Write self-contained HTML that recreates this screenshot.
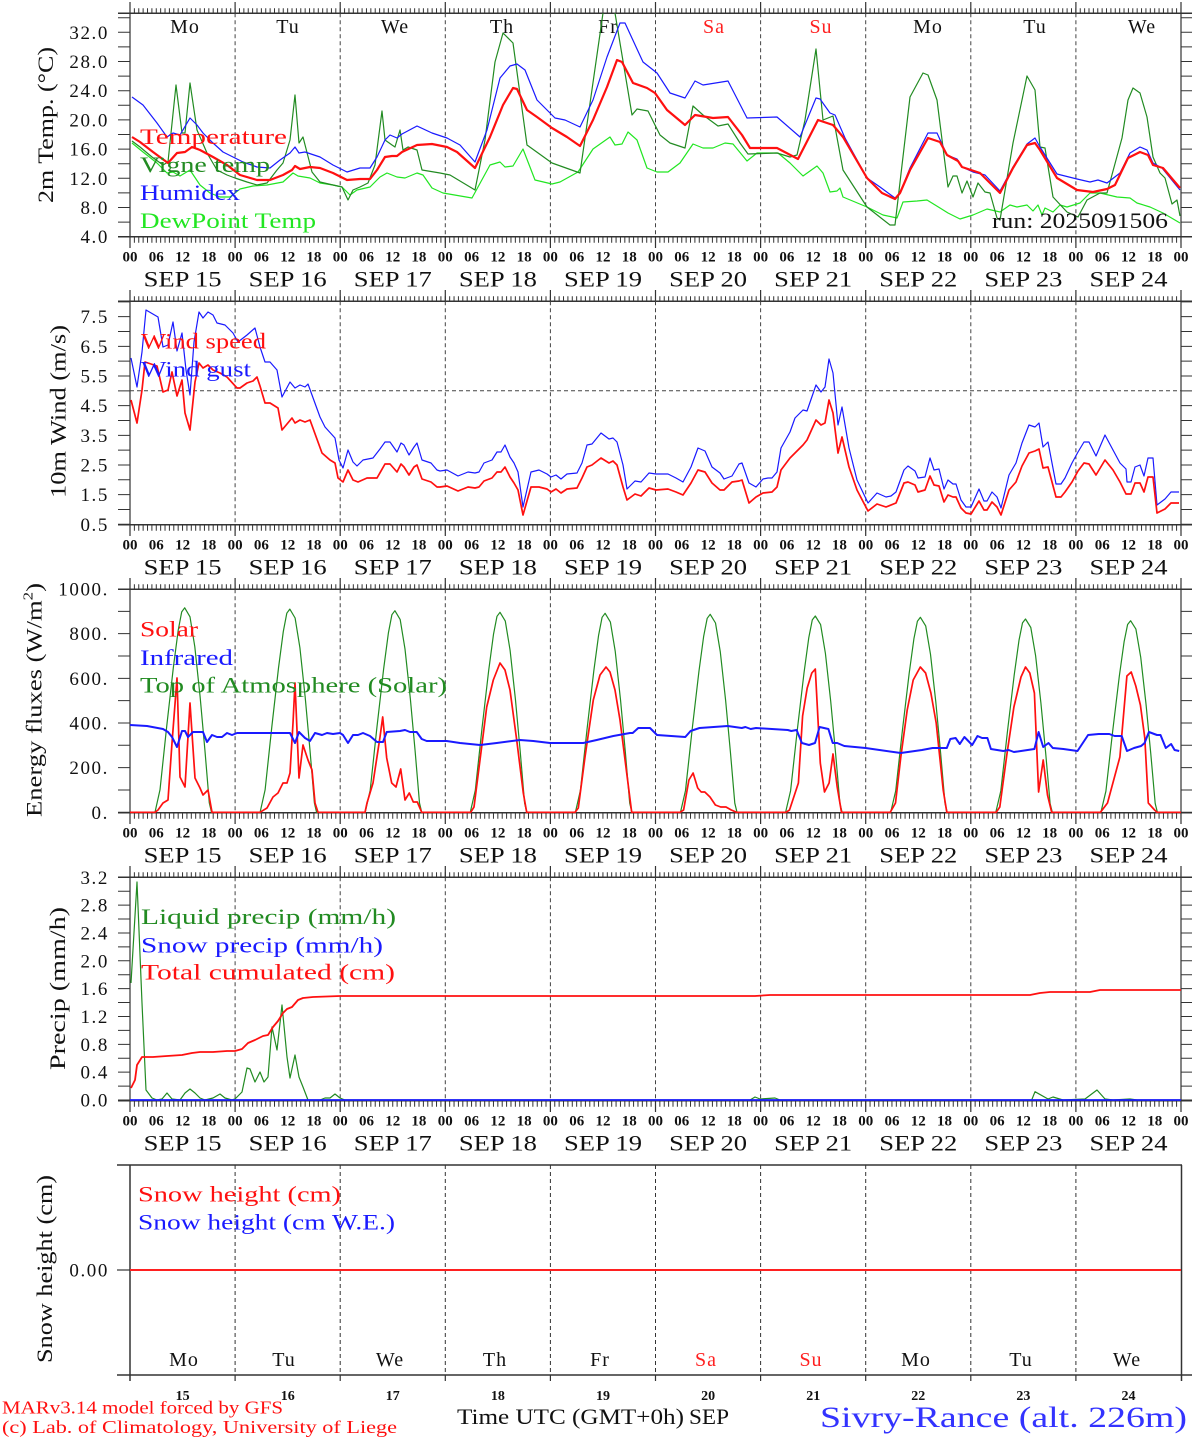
<!DOCTYPE html>
<html><head><meta charset="utf-8"><style>
html,body{margin:0;padding:0;background:#fff;}
svg{display:block;}
text{font-family:"Liberation Serif",serif;}
</style></head><body>
<svg xmlns="http://www.w3.org/2000/svg" xmlns:xlink="http://www.w3.org/1999/xlink" width="1194" height="1440" viewBox="0 0 1194 1440">
<rect width="1194" height="1440" fill="#fff"/>
<defs>
<clipPath id="c1"><rect x="130" y="13.3" width="1051" height="223.4"/></clipPath>
<g id="frame">
 <g stroke="#333" fill="none">
  <line x1="129.5" y1="10.8" x2="1182" y2="10.8" stroke-width="5" stroke-dasharray="1 3.379"/>
  <line x1="129.5" y1="239.7" x2="1182" y2="239.7" stroke-width="6" stroke-dasharray="1 3.379"/>
  <path stroke-width="1.2" d="M130,2V248 M235.1,2V13.3 M235.1,236.7V248 M340.2,2V13.3 M340.2,236.7V248 M445.3,2V13.3 M445.3,236.7V248 M550.4,2V13.3 M550.4,236.7V248 M655.5,2V13.3 M655.5,236.7V248 M760.6,2V13.3 M760.6,236.7V248 M865.7,2V13.3 M865.7,236.7V248 M970.8,2V13.3 M970.8,236.7V248 M1075.9,2V13.3 M1075.9,236.7V248 M1181,2V248"/>
  <line x1="118" y1="13.3" x2="1192" y2="13.3" stroke-width="1.5"/>
  <line x1="118" y1="236.7" x2="1192" y2="236.7" stroke-width="1.5"/>
 </g>
 <path fill="none" stroke="#444" stroke-width="1" stroke-dasharray="4 3" d="M235.1,13.3V236.7 M340.2,13.3V236.7 M445.3,13.3V236.7 M550.4,13.3V236.7 M655.5,13.3V236.7 M760.6,13.3V236.7 M865.7,13.3V236.7 M970.8,13.3V236.7 M1075.9,13.3V236.7"/>
 <g font-size="15" font-weight="bold" text-anchor="middle" fill="#111">
  <text x="130" y="261.5">00</text><text x="156.3" y="261.5">06</text><text x="182.6" y="261.5">12</text><text x="208.8" y="261.5">18</text>
  <text x="235.1" y="261.5">00</text><text x="261.4" y="261.5">06</text><text x="287.7" y="261.5">12</text><text x="313.9" y="261.5">18</text>
  <text x="340.2" y="261.5">00</text><text x="366.5" y="261.5">06</text><text x="392.8" y="261.5">12</text><text x="418.9" y="261.5">18</text>
  <text x="445.3" y="261.5">00</text><text x="471.6" y="261.5">06</text><text x="497.9" y="261.5">12</text><text x="524.1" y="261.5">18</text>
  <text x="550.4" y="261.5">00</text><text x="576.7" y="261.5">06</text><text x="603" y="261.5">12</text><text x="629.2" y="261.5">18</text>
  <text x="655.5" y="261.5">00</text><text x="681.8" y="261.5">06</text><text x="708.1" y="261.5">12</text><text x="734.3" y="261.5">18</text>
  <text x="760.6" y="261.5">00</text><text x="786.9" y="261.5">06</text><text x="813.2" y="261.5">12</text><text x="839.4" y="261.5">18</text>
  <text x="865.7" y="261.5">00</text><text x="892" y="261.5">06</text><text x="918.3" y="261.5">12</text><text x="944.5" y="261.5">18</text>
  <text x="970.8" y="261.5">00</text><text x="997.1" y="261.5">06</text><text x="1023.4" y="261.5">12</text><text x="1049.6" y="261.5">18</text>
  <text x="1075.9" y="261.5">00</text><text x="1102.2" y="261.5">06</text><text x="1128.5" y="261.5">12</text><text x="1154.7" y="261.5">18</text>
  <text x="1181" y="261.5">00</text>
 </g>
 <g font-size="22" text-anchor="middle" fill="#111">
  <text x="182.6" y="286.5" textLength="78" lengthAdjust="spacingAndGlyphs">SEP  15</text>
  <text x="287.7" y="286.5" textLength="78" lengthAdjust="spacingAndGlyphs">SEP  16</text>
  <text x="392.8" y="286.5" textLength="78" lengthAdjust="spacingAndGlyphs">SEP  17</text>
  <text x="497.9" y="286.5" textLength="78" lengthAdjust="spacingAndGlyphs">SEP  18</text>
  <text x="603" y="286.5" textLength="78" lengthAdjust="spacingAndGlyphs">SEP  19</text>
  <text x="708.1" y="286.5" textLength="78" lengthAdjust="spacingAndGlyphs">SEP  20</text>
  <text x="813.2" y="286.5" textLength="78" lengthAdjust="spacingAndGlyphs">SEP  21</text>
  <text x="918.3" y="286.5" textLength="78" lengthAdjust="spacingAndGlyphs">SEP  22</text>
  <text x="1023.4" y="286.5" textLength="78" lengthAdjust="spacingAndGlyphs">SEP  23</text>
  <text x="1128.5" y="286.5" textLength="78" lengthAdjust="spacingAndGlyphs">SEP  24</text>
 </g>
</g>
</defs>

<use xlink:href="#frame" href="#frame"/>
<use xlink:href="#frame" href="#frame" transform="translate(0,288)"/>
<use xlink:href="#frame" href="#frame" transform="translate(0,576)"/>
<use xlink:href="#frame" href="#frame" transform="translate(0,864)"/>

<!-- Y tick combs -->
<g stroke="#333" fill="none">
 <line x1="124" y1="237.2" x2="124" y2="14" stroke-width="12" stroke-dasharray="1 13.6"/>
 <line x1="1186.5" y1="237.2" x2="1186.5" y2="14" stroke-width="11" stroke-dasharray="1 13.6"/>
 <line x1="124" y1="524.8" x2="124" y2="301" stroke-width="12" stroke-dasharray="1 13.83"/>
 <line x1="1186.5" y1="524.8" x2="1186.5" y2="301" stroke-width="11" stroke-dasharray="1 13.83"/>
 <line x1="124" y1="812.8" x2="124" y2="589" stroke-width="12" stroke-dasharray="1 21.33"/>
 <line x1="1186.5" y1="812.8" x2="1186.5" y2="589" stroke-width="11" stroke-dasharray="1 21.33"/>
 <line x1="124" y1="1100.5" x2="124" y2="877" stroke-width="12" stroke-dasharray="1 12.92"/>
 <line x1="1186.5" y1="1100.5" x2="1186.5" y2="877" stroke-width="11" stroke-dasharray="1 12.92"/>
</g>

<!-- Y tick labels -->
<g font-size="19" text-anchor="end" fill="#111" letter-spacing="1.6">
 <text x="109" y="38.8">32.0</text><text x="109" y="68">28.0</text><text x="109" y="97.2">24.0</text><text x="109" y="126.4">20.0</text>
 <text x="109" y="155.6">16.0</text><text x="109" y="184.8">12.0</text><text x="109" y="214">8.0</text><text x="109" y="243.2">4.0</text>
 <text x="109" y="323.2">7.5</text><text x="109" y="352.8">6.5</text><text x="109" y="382.5">5.5</text><text x="109" y="412.2">4.5</text>
 <text x="109" y="441.8">3.5</text><text x="109" y="471.5">2.5</text><text x="109" y="501.1">1.5</text><text x="109" y="530.8">0.5</text>
 <text x="109" y="595.5">1000.</text><text x="109" y="640.2">800.</text><text x="109" y="684.8">600.</text><text x="109" y="729.5">400.</text>
 <text x="109" y="774.1">200.</text><text x="109" y="818.8">0.</text>
 <text x="109" y="883.8">3.2</text><text x="109" y="911.6">2.8</text><text x="109" y="939.5">2.4</text><text x="109" y="967.3">2.0</text>
 <text x="109" y="995.1">1.6</text><text x="109" y="1023">1.2</text><text x="109" y="1050.8">0.8</text><text x="109" y="1078.7">0.4</text>
 <text x="109" y="1106.5">0.0</text>
 <text x="109" y="1276.5">0.00</text>
</g>

<!-- Y axis titles -->
<g font-size="22" text-anchor="middle" fill="#111">
 <text transform="translate(53,125) rotate(-90)" textLength="156" lengthAdjust="spacingAndGlyphs">2m Temp. (°C)</text>
 <text transform="translate(65.5,411.5) rotate(-90)" textLength="173" lengthAdjust="spacingAndGlyphs">10m Wind (m/s)</text>
 <text transform="translate(41.5,700) rotate(-90)" textLength="234" lengthAdjust="spacingAndGlyphs">Energy fluxes (W/m<tspan font-size="14" dy="-9">2</tspan><tspan dy="9">)</tspan></text>
 <text transform="translate(65,988.5) rotate(-90)" textLength="163" lengthAdjust="spacingAndGlyphs">Precip (mm/h)</text>
 <text transform="translate(52,1269) rotate(-90)" textLength="188" lengthAdjust="spacingAndGlyphs">Snow height (cm)</text>
</g>

<!-- Day labels panel 1 -->
<g font-size="20" text-anchor="middle" fill="#111" letter-spacing="1">
 <text x="185" y="33">Mo</text><text x="288" y="33">Tu</text><text x="395" y="33">We</text><text x="502" y="33">Th</text><text x="608" y="33">Fr</text>
 <text x="714" y="33" fill="#ff2020">Sa</text><text x="821" y="33" fill="#ff2020">Su</text>
 <text x="928" y="33">Mo</text><text x="1035" y="33">Tu</text><text x="1142" y="33">We</text>
</g>

<!-- Panel 1 series -->
<g fill="none" clip-path="url(#c1)" stroke-linejoin="round">
 <polyline stroke="#22e622" stroke-width="1.2" points="132,143 143,152 157,163 167,173 173,172 180,176 190,170 200,185 210,193 220,197 230,197 240,189 253,186 267,185 283,182 293,173 298,176 310,178 320,183 333,185 342,187 350,195 357,190 370,187 380,177 387,173 397,177 405,178 417,173 423,175 432,188 443,193 472,198 490,165 500,162 505,167 513,166 523,149 535,180 552,184 560,182 578,172 593,149 610,137 615,145 622,144 628,132 637,140 647,168 657,172 668,172 680,163 693,144 703,148 713,148 725,143 733,144 747,161 757,153 778,153 790,163 803,176 817,166 823,173 830,192 837,191 840,188 843,197 867,207 883,215 897,218 903,202 917,201 927,200 940,208 948,213 960,219 973,215 987,209 1000,212 1010,205 1017,207 1027,205 1033,211 1038,205 1042,215 1045,208 1053,212 1060,205 1067,207 1080,203 1090,193 1100,193 1117,197 1130,198 1137,203 1150,207 1163,213 1180,223"/>
 <polyline stroke="#228b22" stroke-width="1.2" points="132,141 140,147 152,157 163,165 168,162 176,85 182,133 185,133 190,83 197,130 207,153 217,170 227,175 235,178 247,182 257,185 267,183 277,170 283,163 290,140 295,95 299,143 303,137 312,172 320,182 333,185 342,187 348,200 353,190 360,187 368,183 375,165 382,111 385,140 392,145 395,147 400,130 403,150 408,147 417,150 422,170 440,173 450,175 475,190 485,140 495,62 503,33 513,43 527,145 552,163 580,173 603,13 609,-5 615,13 632,115 637,109 648,111 660,135 670,143 685,148 693,106 703,115 718,126 728,124 740,143 748,154 777,153 790,157 797,155 805,120 816,49 823,120 833,116 843,170 867,207 890,225 895,225 910,97 923,73 928,75 937,100 948,187 953,176 957,176 962,193 967,181 973,197 978,183 985,192 990,193 997,218 1000,220 1013,143 1027,76 1035,90 1040,147 1045,148 1053,197 1067,212 1078,217 1087,200 1100,193 1107,193 1122,138 1128,100 1133,88 1140,93 1147,117 1153,157 1160,173 1165,178 1172,204 1177,200 1180,216"/>
 <polyline stroke="#1a1aff" stroke-width="1.2" points="132,97 143,105 157,123 167,137 173,133 180,135 190,118 197,125 203,133 213,143 223,152 233,157 243,162 257,167 270,168 280,160 290,153 295,147 299,153 305,152 320,157 333,165 347,172 360,168 370,168 377,157 385,140 390,135 397,138 402,134 417,126 432,133 447,138 460,145 475,162 487,130 500,78 510,66 517,64 525,70 537,100 555,118 565,120 580,127 593,100 607,57 620,23 625,23 643,62 657,73 670,93 685,98 695,81 703,85 728,81 747,118 777,117 800,137 816,98 820,99 830,113 835,115 845,138 867,178 880,187 895,198 900,193 910,168 928,133 937,133 947,155 957,159 962,167 973,172 985,175 1000,191 1013,167 1027,144 1035,138 1040,147 1057,174 1077,179 1090,182 1098,180 1107,183 1120,173 1130,153 1140,147 1147,150 1153,163 1162,168 1180,190"/>
 <polyline stroke="#ff1010" stroke-width="2.2" points="132,137 140,142 153,152 168,163 177,153 185,152 192,147 200,150 213,157 227,165 240,175 257,180 270,180 283,175 292,170 295,166 300,169 310,167 320,168 333,173 347,180 360,179 370,179 377,170 385,157 392,156 397,156 402,152 417,145 432,144 447,147 457,152 475,168 490,137 503,105 513,88 517,89 527,110 537,117 552,128 567,137 580,146 593,120 607,87 617,60 622,62 633,83 647,88 655,93 667,110 685,125 695,115 713,118 728,117 742,135 750,148 777,148 798,159 818,120 833,125 843,137 867,178 882,193 895,199 900,193 910,170 928,138 940,142 947,155 958,161 962,167 980,173 1000,193 1013,168 1027,145 1035,143 1040,150 1057,178 1077,190 1093,192 1107,189 1115,185 1128,158 1140,152 1148,155 1153,165 1163,168 1180,188"/>
</g>
<g font-size="22">
 <text x="140" y="144" fill="#ff1010" textLength="147" lengthAdjust="spacingAndGlyphs">Temperature</text>
 <text x="140" y="172" fill="#228b22" textLength="130" lengthAdjust="spacingAndGlyphs">Vigne temp</text>
 <text x="140" y="200" fill="#1a1aff" textLength="100" lengthAdjust="spacingAndGlyphs">Humidex</text>
 <text x="140" y="228" fill="#22e622" textLength="176" lengthAdjust="spacingAndGlyphs">DewPoint Temp</text>
 <text x="992" y="228" fill="#111" textLength="176" lengthAdjust="spacingAndGlyphs">run: 2025091506</text>
</g>

<!-- Panel 2 -->
<line x1="130" y1="390.8" x2="1181" y2="390.8" stroke="#444" stroke-width="1" stroke-dasharray="4 3"/>
<g fill="none" stroke-linejoin="round">
 <polyline stroke="#1a1aff" stroke-width="1.2" points="131,358 137,387 142,352 146,310 158,317 163,347 168,345 173,322 177,351 182,333 186,370 190,395 194,342 199,312 203,318 208,312 213,315 217,323 225,325 233,333 238,342 247,335 255,328 260,347 265,362 270,362 277,370 282,397 290,382 295,388 300,385 305,387 308,384 320,417 325,427 335,438 339,460 343,468 348,450 353,462 357,466 363,460 373,458 380,449 385,442 390,442 397,452 401,443 404,445 409,455 414,447 417,443 422,460 431,463 437,470 440,471 447,470 458,476 468,472 475,473 479,472 484,463 492,460 497,452 501,452 505,445 510,457 514,463 518,472 523,507 531,472 539,470 547,474 551,477 556,475 561,479 567,474 577,473 582,463 587,445 592,444 601,433 609,439 613,438 617,442 623,465 627,489 635,481 641,482 649,473 656,474 668,474 676,478 683,482 691,467 698,448 705,451 712,467 720,473 724,479 732,476 739,464 742,463 749,483 756,487 763,479 768,478 772,478 777,472 781,448 790,432 795,418 803,410 807,411 816,385 821,392 825,387 829,359 833,373 838,425 842,407 849,448 857,480 868,503 877,493 886,497 891,496 896,492 904,470 908,466 915,471 918,478 925,477 930,458 934,470 939,469 944,489 948,480 953,484 956,484 961,500 966,507 971,507 979,489 984,501 987,501 992,492 997,497 1001,508 1009,475 1016,463 1022,443 1029,425 1035,427 1039,423 1043,447 1048,442 1056,484 1061,484 1065,478 1072,463 1078,452 1084,442 1089,442 1096,456 1105,435 1113,450 1120,463 1126,469 1127,482 1131,482 1135,467 1140,465 1144,476 1148,458 1153,458 1157,505 1165,499 1171,492 1179,492"/>
 <polyline stroke="#ff1010" stroke-width="1.7" points="131,400 137,423 142,390 145,362 157,366 163,392 168,390 172,372 177,396 182,380 185,413 190,430 195,382 199,363 203,368 208,365 213,370 220,373 227,377 237,388 240,388 247,383 253,381 257,377 260,386 265,403 270,403 278,408 282,430 292,418 295,423 300,420 305,422 310,420 322,453 330,460 335,463 338,478 343,482 348,470 353,480 358,482 367,478 377,478 385,464 390,464 397,472 401,464 404,467 409,475 414,467 417,465 422,479 431,482 437,487 440,487 447,486 458,491 468,487 475,488 479,487 484,481 492,478 497,472 501,472 505,467 510,477 514,483 518,490 523,515 531,487 539,487 547,489 551,492 556,489 561,493 567,489 577,488 582,478 587,467 592,465 601,458 609,463 613,461 617,465 623,487 627,500 635,494 641,496 649,488 656,490 668,489 676,492 683,495 691,483 698,470 705,472 712,483 720,490 724,490 732,482 739,481 742,480 749,503 756,497 763,493 772,492 777,487 781,470 790,458 795,453 803,445 807,440 816,420 821,425 825,423 829,400 833,413 838,453 842,437 849,467 857,490 868,511 877,504 886,507 896,503 904,483 908,482 915,485 918,492 925,490 930,476 934,485 939,486 944,502 948,495 953,497 956,497 961,508 966,513 971,514 979,501 984,510 987,510 992,502 997,507 1001,515 1009,490 1016,482 1022,466 1029,453 1035,451 1039,449 1043,468 1048,467 1056,497 1061,497 1065,492 1072,482 1078,471 1084,463 1089,464 1096,475 1105,460 1113,470 1120,482 1126,494 1131,494 1135,483 1140,483 1144,492 1148,477 1153,477 1157,513 1165,509 1171,503 1179,503"/>
</g>
<g font-size="22">
 <text x="141" y="348.3" fill="#ff1010" textLength="125" lengthAdjust="spacingAndGlyphs">Wind speed</text>
 <text x="141" y="376.7" fill="#1a1aff" textLength="110" lengthAdjust="spacingAndGlyphs">Wind gust</text>
</g>

<!-- Panel 3 -->
<g fill="none" stroke-linejoin="round">
 <polyline stroke="#228b22" stroke-width="1.2" points="130,812.3 155.0,812.3 160.0,789.8 166.7,726.4 173.4,667.1 178.2,630.3 181.7,611.9 184.7,607.8 190.0,616.8 194.8,646.7 200.1,696.6 204.9,749.9 209.3,802.9 211.5,812.3 260.1,812.3 265.1,789.9 271.8,727.0 278.5,668.0 283.3,631.5 286.8,613.2 289.8,609.1 295.1,618.0 299.9,647.7 305.2,697.3 310.0,750.3 314.4,803.0 316.6,812.3 365.2,812.3 370.2,790.1 376.9,727.6 383.6,669.2 388.4,632.9 391.9,614.7 394.9,610.7 400.2,619.6 405.0,649.0 410.3,698.2 415.1,750.8 419.5,803.0 421.7,812.3 470.3,812.3 475.3,790.3 482.0,728.3 488.7,670.3 493.5,634.3 497.0,616.3 500.0,612.3 505.3,621.1 510.1,650.3 515.4,699.1 520.2,751.3 524.6,803.1 526.8,812.3 575.4,812.3 580.4,790.4 587.1,728.7 593.8,671.0 598.6,635.2 602.1,617.3 605.1,613.3 610.4,622.1 615.2,651.1 620.5,699.7 625.3,751.6 629.7,803.1 631.9,812.3 680.5,812.3 685.5,790.5 692.2,729.1 698.9,671.7 703.7,636.1 707.2,618.3 710.2,614.3 715.5,623.0 720.3,651.9 725.6,700.2 730.4,751.9 734.8,803.2 737.0,812.3 785.6,812.3 790.6,790.7 797.3,729.9 804.0,672.9 808.8,637.6 812.3,619.9 815.3,616.0 820.6,624.6 825.4,653.3 830.7,701.2 835.5,752.4 839.9,803.3 842.1,812.3 890.7,812.3 895.7,790.9 902.4,730.4 909.1,673.9 913.9,638.8 917.4,621.2 920.4,617.3 925.7,625.9 930.5,654.3 935.8,701.9 940.6,752.8 945.0,803.3 947.2,812.3 995.8,812.3 1000.8,791.0 1007.5,731.1 1014.2,675.1 1019.0,640.3 1022.5,622.9 1025.5,619.0 1030.8,627.5 1035.6,655.7 1040.9,702.9 1045.7,753.3 1050.1,803.4 1052.3,812.3 1100.9,812.3 1105.9,791.2 1112.6,731.8 1119.3,676.3 1124.1,641.8 1127.6,624.5 1130.6,620.7 1135.9,629.1 1140.7,657.1 1146.0,703.9 1150.8,753.9 1155.2,803.5 1157.4,812.3 1181,812.3"/>
 <polyline stroke="#ff1010" stroke-width="1.7" points="130,812.3 155,812.3 158,810 163,803 168,800 172,743 177,678 180,777 185,787 190,703 195,778 200,788 203,795 208,790 212,812.3 260,812.3 267,808 273,797 278,793 283,783 287,783 290,773 293,723 295,683 299,778 303,745 308,760 312,770 315,803 318,812.3 365,812.3 367,803 373,783 380,737 382.7,717 386.7,758 391.7,783 396,787 400.7,769 405,800 409.3,793 413.3,802 417.3,802 421.7,812.3 470.7,812.3 474,807 480,760 486.7,707 493.3,680 500,663 505,670 510,690 516.7,740 523.3,793 526.7,812.3 575,812.3 578.3,808 585,757 593.3,700 600,675 606,667 610,672 615,690 620,720 626.7,773 631.7,812.3 680,812.3 683.6,810 688.9,780 693.1,773 697.7,788 701.2,792 704.8,792 710,797 715.4,805 720.7,807 726,807 731.3,810 736.6,812.3 786,812.3 789.5,810 798.4,783 802.6,716 807.2,688 811.8,673 815.3,669 820.3,763 824.5,792 829.1,783 833,754 837.2,787 841.5,812.3 890.2,812.3 895.5,803 900.8,757 907.2,710 913.2,680 920.3,667 925.6,673 930.9,693 936.2,723 943.2,790 946.8,812.3 996.2,812.3 999.8,807 1006.8,755 1013.9,707 1021,677 1025.5,667 1029.8,673 1034.4,693 1038.6,792 1043.2,760 1047.5,795 1051.7,812.3 1100.4,812.3 1107.5,803 1119.9,757 1126.9,676 1131.2,672 1135.8,686 1140.4,705 1144.8,738 1148.3,803 1154.6,810 1157,812.3 1181,812.3"/>
 <polyline stroke="#1a1aff" stroke-width="2" points="130,725 147,726 163,729 168,732 172,737 177,747 182,731 185,731 188,737 193,732 203,732 207,742 212,735 217,737 222,737 227,733 232,735 237,733 290,733 295,743 299,732 305,738 310,741 315,733 322,735 327,733 333,734 340,733 343,735 348,743 353,735 358,735 363,733 370,736 377,742 383,742 386.7,732 400,731 405,730 410,732 416.7,732 421.7,739 426.7,741 446.7,741 460,743 480,745 496.7,743 520,740 533.3,741 550,743 566.7,743 583.3,743 596.7,740 613.3,736 630,733 632.7,733 638.3,728 650,728 657,735 685.3,737 690.6,731 699.5,728 727.7,726 741.8,728 745.4,727 750.7,729 756,728 787.8,730 791.3,731 796.6,730 801.9,743 809,745 815,743 819.6,727 828.4,729 832.7,743 837.2,743 844.3,746 865.5,748 900.8,753 922,750 932.6,748 946.8,748 950.3,739 955.6,738 959.8,744 964.4,737 972.2,745 977.5,736 982.1,738 987.4,738 990.9,749 1003.3,751 1008.6,750 1013.9,752 1021,751 1034.4,749 1038.6,732 1043.2,747 1048.5,743 1052.8,748 1063.4,749 1077.5,751 1088.1,735 1098.7,734 1109.3,734 1114.6,736 1121.7,736 1127,751 1134,748 1141.1,746 1144.6,743 1148.9,732 1157,735 1160.5,735 1165.8,748 1171.1,744 1174.6,750 1179.2,751"/>
</g>
<g font-size="22">
 <text x="140" y="636.7" fill="#ff1010" textLength="58" lengthAdjust="spacingAndGlyphs">Solar</text>
 <text x="140" y="665" fill="#1a1aff" textLength="93" lengthAdjust="spacingAndGlyphs">Infrared</text>
 <text x="140" y="692.7" fill="#228b22" textLength="307" lengthAdjust="spacingAndGlyphs">Top of Atmosphere (Solar)</text>
</g>

<!-- Panel 4 -->
<g fill="none" stroke-linejoin="round">
 <polyline stroke="#228b22" stroke-width="1.2" points="131,983 137,882 142,1003 146,1090 152,1098 157,1100 162,1099 167,1093 172,1099 180,1100 185,1093 190,1089 195,1093 200,1098 205,1100 213,1098 220,1094 225,1098 232,1100 235,1099 242,1092 247,1068 250,1069 255,1082 260,1072 264,1082 268,1077 272,1027 277,1050 282,1005 287,1057 290,1078 295,1055 299,1077 303,1087 308,1100 320,1100 325,1098 330,1098 335,1094 340,1098 345,1100 750,1100 755,1097 760,1099 775,1098 780,1100 1031.7,1100 1035,1091.7 1048,1099 1053,1097 1063,1100 1085,1099 1097,1090 1105,1099 1113,1100 1130,1099 1137,1100 1181,1100"/>
 <line x1="130" y1="1100" x2="1181" y2="1100" stroke="#1a1aff" stroke-width="1.8"/>
 <polyline stroke="#ff1010" stroke-width="1.8" points="131,1088 135,1080 137,1065 142,1057 153,1057 167,1056 182,1055 192,1053 200,1052 213,1052 227,1051 235,1051 242,1049 248,1043 255,1040 263,1036 268,1035 273,1027 278,1021 283,1013 287,1009 292,1007 298,1000 303,998 313,997 340,996 755,996 770,995 1030,995 1040,993 1050,992 1090,992 1100,990 1181,990"/>
</g>
<g font-size="22">
 <text x="141" y="924" fill="#228b22" textLength="255" lengthAdjust="spacingAndGlyphs">Liquid precip (mm/h)</text>
 <text x="141" y="952.3" fill="#1a1aff" textLength="242" lengthAdjust="spacingAndGlyphs">Snow precip (mm/h)</text>
 <text x="141" y="979.3" fill="#ff1010" textLength="254" lengthAdjust="spacingAndGlyphs">Total cumulated (cm)</text>
</g>

<!-- Panel 5 -->
<g stroke="#333" fill="none">
 <line x1="117" y1="1165" x2="1182" y2="1165" stroke-width="1.5"/>
 <line x1="117" y1="1375" x2="1192" y2="1375" stroke-width="1.5"/>
 <line x1="117" y1="1270" x2="130" y2="1270" stroke-width="1.2"/>
 <line x1="130" y1="1165" x2="130" y2="1381" stroke-width="1.5"/>
 <line x1="1181.5" y1="1165" x2="1181.5" y2="1381" stroke-width="1.5"/>
 <path stroke-width="1.2" d="M235.1,1375V1381 M340.2,1375V1381 M445.3,1375V1381 M550.4,1375V1381 M655.5,1375V1381 M760.6,1375V1381 M865.7,1375V1381 M970.8,1375V1381 M1075.9,1375V1381"/>
</g>
<path fill="none" stroke="#333" stroke-width="1" stroke-dasharray="4 3" d="M235.1,1165V1375 M340.2,1165V1375 M445.3,1165V1375 M550.4,1165V1375 M655.5,1165V1375 M760.6,1165V1375 M865.7,1165V1375 M970.8,1165V1375 M1075.9,1165V1375"/>
<line x1="130" y1="1270" x2="1181" y2="1270" stroke="#ff2020" stroke-width="2"/>
<g font-size="22">
 <text x="138" y="1201.7" fill="#ff1010" textLength="203" lengthAdjust="spacingAndGlyphs">Snow height (cm)</text>
 <text x="138" y="1229.3" fill="#1a1aff" textLength="257" lengthAdjust="spacingAndGlyphs">Snow height (cm W.E.)</text>
</g>
<g font-size="20" text-anchor="middle" fill="#111" letter-spacing="1">
 <text x="184" y="1366">Mo</text><text x="284" y="1366">Tu</text><text x="390" y="1366">We</text><text x="495" y="1366">Th</text><text x="600" y="1366">Fr</text>
 <text x="706" y="1366" fill="#ff2020">Sa</text><text x="811" y="1366" fill="#ff2020">Su</text>
 <text x="916" y="1366">Mo</text><text x="1021" y="1366">Tu</text><text x="1127" y="1366">We</text>
</g>
<g font-size="14" font-weight="bold" text-anchor="middle" fill="#111">
 <text x="182.6" y="1400">15</text><text x="287.7" y="1400">16</text><text x="392.8" y="1400">17</text><text x="497.9" y="1400">18</text><text x="603" y="1400">19</text>
 <text x="708.1" y="1400">20</text><text x="813.2" y="1400">21</text><text x="918.3" y="1400">22</text><text x="1023.4" y="1400">23</text><text x="1128.5" y="1400">24</text>
</g>

<!-- Footer -->
<text x="457" y="1424" font-size="22" fill="#111" textLength="227" lengthAdjust="spacingAndGlyphs">Time UTC (GMT+0h)</text>
<text x="689" y="1424" font-size="22" fill="#111" textLength="40" lengthAdjust="spacingAndGlyphs">SEP</text>
<text x="820" y="1427" font-size="30" fill="#3333ff" textLength="367" lengthAdjust="spacingAndGlyphs">Sivry-Rance (alt. 226m)</text>
<text x="2" y="1413.5" font-size="18" fill="#ff1010" textLength="281" lengthAdjust="spacingAndGlyphs">MARv3.14 model forced by GFS</text>
<text x="2" y="1433" font-size="18" fill="#ff1010" textLength="395" lengthAdjust="spacingAndGlyphs">(c) Lab. of Climatology, University of Liege</text>
</svg>
</body></html>
